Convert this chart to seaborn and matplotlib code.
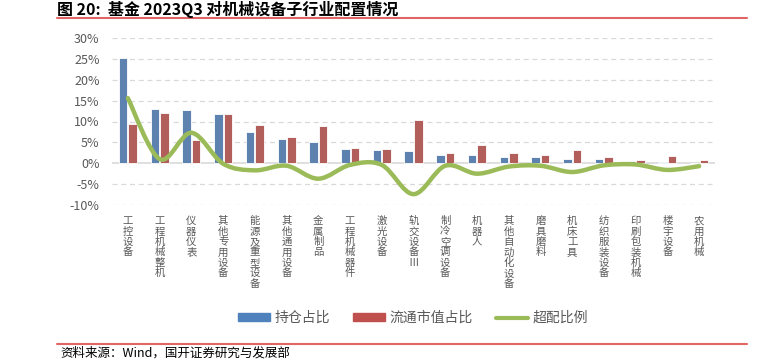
import numpy as np
import pandas as pd
import matplotlib
matplotlib.use("Agg")
import matplotlib.pyplot as plt
from matplotlib.path import Path
from matplotlib.patches import PathPatch, Patch
from matplotlib.lines import Line2D
import seaborn as sns

# data (percent)
categories = [
    "工控设备", "工程机械整机", "仪器仪表", "其他专用设备", "能源及重型设备",
    "其他通用设备", "金属制品", "工程机械器件", "激光设备", "轨交设备Ⅲ",
    "制冷空调设备", "机器人", "其他自动化设备", "磨具磨料", "机床工具",
    "纺织服装设备", "印刷包装机械", "楼宇设备", "农用机械",
]
holding = [25.1, 13.0, 12.8, 11.7, 7.4, 5.7, 5.2, 3.3, 3.1, 2.9,
           1.9, 1.9, 1.6, 1.4, 1.0, 0.9, 0.5, 0.25, 0.05]
float_cap = [9.5, 12.0, 5.5, 11.8, 9.1, 6.3, 8.9, 3.7, 3.5, 10.3,
             2.5, 4.4, 2.4, 2.0, 3.1, 1.4, 0.8, 1.8, 0.7]
overweight = [15.6, 1.0, 7.3, -0.1, -1.7, -0.6, -3.7, -0.4, -0.4, -7.4,
              -0.6, -2.5, -0.8, -0.6, -2.1, -0.5, -0.3, -1.6, -0.7]
series_names = ["持仓占比", "流通市值占比", "超配比例"]
yticks = [-10, -5, 0, 5, 10, 15, 20, 25, 30]

BLUE, RED, GREEN = "#4F81BD", "#C0504D", "#9BBB59"
GREY = "#595959"

sns.set_theme(style="white")
plt.rcParams["font.family"] = ["Noto Sans CJK SC", "DejaVu Sans"]

df = pd.DataFrame({
    "cat": categories * 2,
    "val": holding + float_cap,
    "series": [series_names[0]] * len(categories) + [series_names[1]] * len(categories),
})

fig = plt.figure(figsize=(7.68, 3.6), dpi=100)
ax = fig.add_axes([112 / 768, 155 / 360, 603 / 768, 167 / 360])

sns.barplot(data=df, x="cat", y="val", hue="series", order=categories,
            palette=[BLUE, RED], width=0.6, gap=0.1, ax=ax,
            edgecolor="white", linewidth=0.6, legend=False, zorder=3)

# smoothed overweight line (Catmull-Rom -> cubic bezier, like Excel's smooth line)
pts = np.column_stack([np.arange(len(overweight)), overweight]).astype(float)
verts = [pts[0]]
codes = [Path.MOVETO]
for i in range(len(pts) - 1):
    p0 = pts[max(i - 1, 0)]
    p1, p2 = pts[i], pts[i + 1]
    p3 = pts[min(i + 2, len(pts) - 1)]
    verts += [p1 + (p2 - p0) / 6, p2 - (p3 - p1) / 6, p2]
    codes += [Path.CURVE4] * 3
ax.add_patch(PathPatch(Path(verts, codes), fill=False, edgecolor=GREEN,
                       linewidth=3.2, capstyle="round", joinstyle="round", zorder=4))

ax.set_xlim(-0.5, len(categories) - 0.5)
ax.set_ylim(-10, 30)
ax.set_yticks(yticks)
ax.set_yticklabels([f"{v}%" for v in yticks], fontsize=9, color=GREY)
for v in yticks:
    if v == 0:
        ax.axhline(0, color="#D9D9D9", lw=1.2, zorder=2)
    else:
        ax.axhline(v, color="#D9D9D9", lw=0.9, ls=(0, (4, 3)), zorder=1)

ax.set_xticks(range(len(categories)))
ax.set_xticklabels(["\n".join(c) for c in categories], fontsize=7.5, color=GREY,
                   va="top", linespacing=1.05, fontweight="light")
ax.tick_params(axis="both", length=0)
ax.tick_params(axis="x", pad=8)
ax.tick_params(axis="y", pad=9)
ax.set_xlabel("")
ax.set_ylabel("")
for s in ax.spines.values():
    s.set_visible(False)

handles = [Patch(color=BLUE), Patch(color=RED), Line2D([], [], color=GREEN, lw=3)]
fig.legend(handles, series_names, loc="center", bbox_to_anchor=(413 / 768, 1 - 318 / 360),
           ncol=3, frameon=False, fontsize=10, labelcolor=GREY, handlelength=2.3,
           handleheight=0.45, columnspacing=1.7, handletextpad=0.3)

fig.text(57 / 768, 1 - 9 / 360, "图 20:  基金 2023Q3 对机械设备子行业配置情况",
         fontsize=11.5, fontweight="bold", va="center", ha="left", color="black")
fig.add_artist(Line2D([57 / 768, 747 / 768], [1 - 18 / 360] * 2, color="#E06666", lw=1.5))
fig.add_artist(Line2D([57 / 768, 747 / 768], [1 - 344 / 360] * 2, color="#E06666", lw=1.5))
fig.text(60 / 768, 1 - 353 / 360, "资料来源：Wind，国开证券研究与发展部",
         fontsize=9, va="center", ha="left", color="black")

fig.savefig("out.png", dpi=100, facecolor="white")
